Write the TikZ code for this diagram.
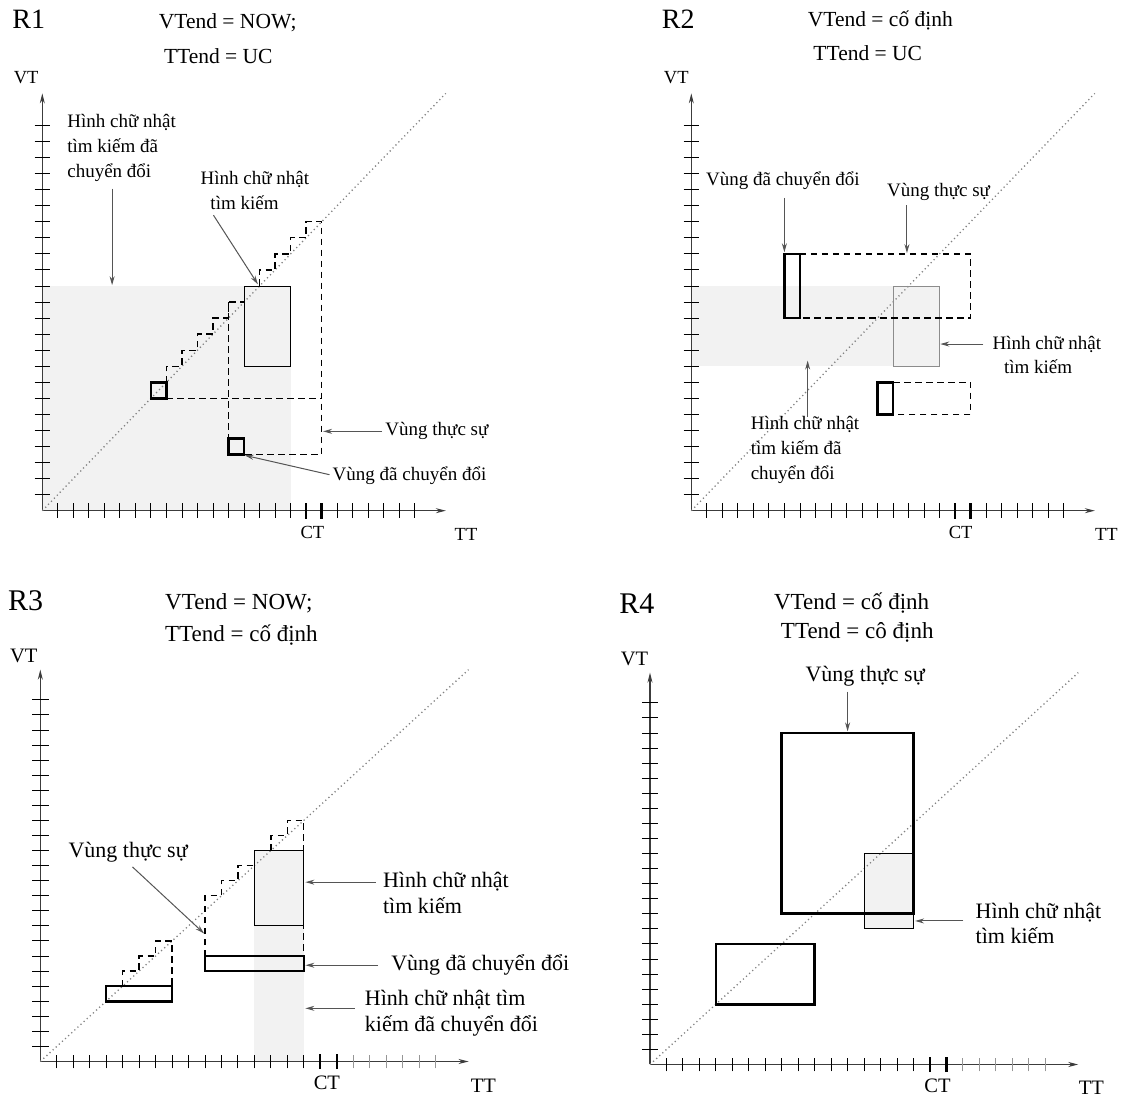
\documentclass[tikz,border=0pt]{standalone}
\usepackage{fontspec}
\setmainfont{Liberation Serif}
\usepackage{tikz}
\usetikzlibrary{arrows.meta, calc}
\definecolor{ShadeGray}{RGB}{242,242,242}
\definecolor{AxisGray}{RGB}{60,60,60}
\definecolor{PointGray}{RGB}{85,85,85}
\definecolor{DotGray}{RGB}{130,130,130}
\definecolor{FutureGray}{RGB}{150,150,150}
\definecolor{SrchGray}{RGB}{140,140,140}

% axes, ticks and the diagonal of one panel (#1 = colour of ticks after CT)
\newcommand{\timeaxes}[1]{%
  \draw[axisline] (0,0) -- (0,26);
  \draw[axisline] (0,0) -- (26,0);
  \foreach \k in {1,...,24} \draw[tickline] (-0.5,\k) -- (0.5,\k);
  \foreach \k in {1,...,16} \draw[tickline] (\k,-0.45) -- (\k,0.45);
  \foreach \k in {19,...,24} \draw[tickline, #1] (\k,-0.45) -- (\k,0.45);
  \draw[cttick] (17,-0.5) -- (17,0.5);
  \draw[cttick] (18,-0.5) -- (18,0.5);
  \draw[diagline] (0,0) -- (26,26);
}

\begin{document}
\begin{tikzpicture}[x=1pt, y=1pt,
    axisline/.style={AxisGray, line width=1.1pt, -{Stealth[length=10pt, width=5pt]}},
    tickline/.style={line width=0.9pt},
    cttick/.style={line width=2.4pt},
    diagline/.style={DotGray, line width=1.3pt, dash pattern=on 1.2pt off 3pt},
    pointer/.style={PointGray, line width=1pt, -{Stealth[length=9pt, width=5pt]}},
    convbox/.style={line width=2.6pt},
    realline/.style={line width=1.3pt, dash pattern=on 6.5pt off 4.5pt},
    srchbox/.style={line width=0.9pt},
    tlbl/.style={font=\fontsize{19}{23}\selectfont, inner sep=0pt},
    blbl/.style={font=\fontsize{22}{26}\selectfont, inner sep=0pt},
    thdr/.style={font=\fontsize{21.5}{24}\selectfont, inner sep=0pt, anchor=base west},
    bhdr/.style={font=\fontsize{23}{26}\selectfont, inner sep=0pt, anchor=base west},
    tname/.style={font=\fontsize{28}{30}\selectfont, inner sep=0pt},
    bname/.style={font=\fontsize{30}{32}\selectfont, inner sep=0pt},
    taxis/.style={font=\fontsize{18.5}{20}\selectfont, inner sep=0pt},
    baxis/.style={font=\fontsize{20.5}{22}\selectfont, inner sep=0pt}]
  \useasboundingbox (0,0) rectangle (1121,1097);

  % R1
  \begin{scope}[shift={(42.3,586.3)}, xscale=15.52, yscale=16.05]
    \fill[ShadeGray] (0,0) rectangle (16,14);
    \timeaxes{black}
    \draw[srchbox] (13,9) rectangle (16,14);
    \draw[realline] (8,8) -- (8,9) -- (9,9) -- (9,10) -- (10,10) -- (10,11) -- (11,11) -- (11,12) -- (12,12) -- (12,13) -- (13,13);
    \draw[realline] (12,13) -- (12,4.5);
    \draw[realline] (14,14) -- (14,15) -- (15,15) -- (15,16) -- (16,16) -- (16,17) -- (17,17) -- (17,18) -- (18,18) -- (18,3.5) -- (13,3.5);
    \draw[realline] (8,7) -- (18,7);
    \draw[convbox] (7,7) rectangle (8,8);
    \draw[convbox] (12,3.5) rectangle (13,4.5);

    \node[tname] (r1name) at (-0.87,30.6) {R1};
    \node[thdr] (r1hdrA) at (7.5,30.06) {VTend = NOW;};
    \node[thdr] (r1hdrB) at (7.83,27.86) {TTend = UC};
    \node[taxis] (r1vt) at (-1.04,27.0) {VT};
    \node[taxis] (r1tt) at (27.3,-1.5) {TT};
    \node[taxis] (r1ct) at (17.4,-1.36) {CT};

    \node[tlbl, anchor=base west] (r1convA) at (1.6,23.87) {Hình chữ nhật};
    \node[tlbl, anchor=base west] (r1convB) at (1.6,22.32) {tìm kiếm đã};
    \node[tlbl, anchor=base west] (r1convC) at (1.6,20.77) {chuyển đổi};
    \coordinate (r1convtip) at (4.5,14.05);
    \draw[pointer, shorten <=7pt] (r1convC.south -| r1convtip) -- (r1convtip);

    \node[tlbl, anchor=base] (r1srchA) at (13.7,20.3) {Hình chữ nhật};
    \node[tlbl, anchor=base] (r1srchB) at (13.03,18.75) {tìm kiếm};
    \coordinate (r1srchtip) at (13.9,14.1);
    \draw[pointer, shorten <=6pt] (r1srchB.south west) -- (r1srchtip);

    \node[tlbl, anchor=base west] (r1real) at (22.1,4.66) {Vùng thực sự};
    \coordinate (r1realtip) at (18.1,0);
    \draw[pointer, shorten <=3pt] (r1real.west) -- (r1real.west -| r1realtip);

    \node[tlbl, anchor=base west] (r1convreg) at (18.7,1.9) {Vùng đã chuyển đổi};
    \coordinate (r1convregtip) at (13.05,3.45);
    \draw[pointer, shorten <=3pt] (r1convreg.west) -- (r1convregtip);
  \end{scope}

  % R2
  \begin{scope}[shift={(691.3,586.3)}, xscale=15.52, yscale=16.05]
    \fill[ShadeGray] (0,9) rectangle (16,14);
    \timeaxes{black}
    \draw[srchbox, SrchGray] (13,9) rectangle (16,14);
    \draw[realline] (7,16) -- (18,16) -- (18,12) -- (7,12);
    \draw[realline] (13,8) -- (18,8) -- (18,6) -- (13,6);
    \draw[convbox] (6,12) rectangle (7,16);
    \draw[convbox] (12,6) rectangle (13,8);

    \node[tname] (r2name) at (-0.84,30.6) {R2};
    \node[thdr] (r2hdrA) at (7.5,30.16) {VTend = cố định};
    \node[thdr] (r2hdrB) at (7.86,28.06) {TTend = UC};
    \node[taxis] (r2vt) at (-0.97,27.0) {VT};
    \node[taxis] (r2tt) at (26.75,-1.5) {TT};
    \node[taxis] (r2ct) at (17.35,-1.36) {CT};

    \node[tlbl, anchor=base west] (r2convreg) at (0.94,20.26) {Vùng đã chuyển đổi};
    \coordinate (r2convtip) at (6,16.1);
    \draw[pointer, shorten <=8pt] (r2convreg.south -| r2convtip) -- (r2convtip);

    \node[tlbl, anchor=base west] (r2real) at (12.6,19.6) {Vùng thực sự};
    \coordinate (r2realtip) at (13.9,16.05);
    \draw[pointer, shorten <=5pt] (r2real.south -| r2realtip) -- (r2realtip);

    \node[tlbl, anchor=base west] (r2srchA) at (19.4,10.07) {Hình chữ nhật};
    \node[tlbl, anchor=base west] (r2srchB) at (20.14,8.52) {tìm kiếm};
    \coordinate (r2srchtip) at (16.05,0);
    \draw[pointer, shorten <=9pt] (r2srchA.west) -- (r2srchA.west -| r2srchtip);

    \node[tlbl, anchor=base west] (r2convsA) at (3.82,5.03) {Hình chữ nhật};
    \node[tlbl, anchor=base west] (r2convsB) at (3.82,3.48) {tìm kiếm đã};
    \node[tlbl, anchor=base west] (r2convsC) at (3.82,1.93) {chuyển đổi};
    \coordinate (r2convstip) at (7.5,9.35);
    \draw[pointer] (r2convsA.north -| r2convstip) -- (r2convstip);
  \end{scope}

  % R3
  \begin{scope}[shift={(40.3,35.5)}, xscale=16.47, yscale=15.07]
    \fill[ShadeGray] (13,0) rectangle (16,14);
    \timeaxes{FutureGray}
    \draw[realline] (5,5) -- (5,6) -- (6,6) -- (6,7) -- (7,7) -- (7,8) -- (8,8) -- (8,5);
    \draw[realline] (10,7) -- (10,11) -- (11,11) -- (11,12) -- (12,12) -- (12,13) -- (13,13);
    \draw[realline] (14,14) -- (14,15) -- (15,15) -- (15,16) -- (16,16) -- (16,7);
    \draw[srchbox] (13,9) rectangle (16,14);
    \draw[convbox] (4,4) rectangle (8,5);
    \draw[convbox] (10,6) rectangle (16,7);

    \node[bname] (r3name) at (-0.89,30.6) {R3};
    \node[bhdr] (r3hdrA) at (7.57,29.96) {VTend = NOW;};
    \node[bhdr] (r3hdrB) at (7.57,27.9) {TTend = cố định};
    \node[baxis] (r3vt) at (-1.0,26.9) {VT};
    \node[baxis] (r3tt) at (26.9,-1.6) {TT};
    \node[baxis] (r3ct) at (17.4,-1.43) {CT};

    \node[blbl, anchor=base west] (r3real) at (1.7,13.52) {Vùng thực sự};
    \coordinate (r3realtip) at (9.95,8.5);
    \draw[pointer, shorten <=6pt] (r3real.south) -- (r3realtip);

    \node[blbl, anchor=base west] (r3srchA) at (20.8,11.52) {Hình chữ nhật};
    \node[blbl, anchor=base west] (r3srchB) at (20.8,9.8) {tìm kiếm};
    \coordinate (r3srchtip) at (16.1,0);
    \draw[pointer, shorten <=7pt] (r3srchA.west) -- (r3srchA.west -| r3srchtip);

    \node[blbl, anchor=base west] (r3convreg) at (21.3,6.02) {Vùng đã chuyển đổi};
    \coordinate (r3convregtip) at (16.1,0);
    \draw[pointer, shorten <=13pt] (r3convreg.west) -- (r3convreg.west -| r3convregtip);

    \node[blbl, anchor=base west] (r3convsA) at (19.7,3.72) {Hình chữ nhật tìm};
    \node[blbl, anchor=base west] (r3convsB) at (19.7,2.0) {kiếm đã chuyển đổi};
    \coordinate (r3convstip) at (16.1,3.53);
    \draw[pointer, shorten <=10pt] (r3convsA.south west |- r3convstip) -- (r3convstip);
  \end{scope}

  % R4
  \begin{scope}[shift={(650,32.5)}, xscale=16.47, yscale=15.07]
    \fill[ShadeGray] (13,9) rectangle (16,14);
    \timeaxes{FutureGray}
    \draw[srchbox] (13,9) rectangle (16,14);
    \draw[convbox] (8,10) rectangle (16,22);
    \draw[convbox] (4,4) rectangle (10,8);

    \node[bname] (r4name) at (-0.8,30.6) {R4};
    \node[bhdr] (r4hdrA) at (7.52,30.19) {VTend = cố định};
    \node[bhdr] (r4hdrB) at (7.94,28.3) {TTend = cô định};
    \node[baxis] (r4vt) at (-0.94,26.9) {VT};
    \node[baxis] (r4tt) at (26.8,-1.55) {TT};
    \node[baxis] (r4ct) at (17.46,-1.44) {CT};

    \node[blbl, anchor=base] (r4real) at (13.06,25.42) {Vùng thực sự};
    \coordinate (r4realtip) at (12,22.12);
    \draw[pointer, shorten <=5pt] (r4real.south -| r4realtip) -- (r4realtip);

    \node[blbl, anchor=base west] (r4srchA) at (19.76,9.72) {Hình chữ nhật};
    \node[blbl, anchor=base west] (r4srchB) at (19.76,8.0) {tìm kiếm};
    \coordinate (r4srchtip) at (16.1,9.53);
    \draw[pointer, shorten <=12pt] (r4srchA.south west |- r4srchtip) -- (r4srchtip);
  \end{scope}
\end{tikzpicture}
\end{document}
